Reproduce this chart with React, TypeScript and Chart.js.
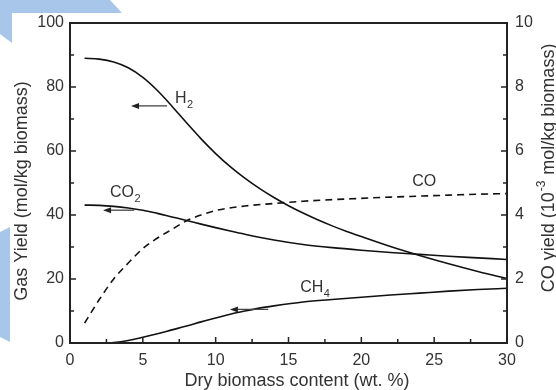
import React, { useEffect, useRef } from "react";
import { Chart, registerables } from "chart.js";

Chart.register(...registerables);

// ---- data ----
const h2X = [1, 2, 3, 4, 5, 6, 7, 8, 9, 10, 11, 12, 13, 14, 15, 16, 17, 18, 19, 20, 22, 24, 26, 28, 30];
const h2Y = [89, 88.7, 87.8, 86.0, 83.0, 78.9, 74.0, 68.8, 63.8, 59.2, 55.1, 51.5, 48.3, 45.45, 42.9, 40.6, 38.5, 36.6, 34.85, 33.25, 30.15, 27.35, 24.75, 22.35, 20.15];

const co2X = [1, 2, 3, 4, 5, 6, 7, 8, 9, 10, 11, 12, 14, 16, 18, 20, 22, 24, 26, 28, 30];
const co2Y = [43.1, 43.0, 42.7, 42.2, 41.5, 40.5, 39.4, 38.3, 37.15, 36.05, 35.0, 34.0, 32.2, 30.8, 29.8, 29.0, 28.3, 27.7, 27.1, 26.6, 26.1];

const ch4X = [2.5, 3, 4, 5, 6, 7, 8, 9, 10, 11, 12, 13, 14, 16, 18, 20, 22, 24, 26, 28, 30];
const ch4Y = [0, 0.15, 0.8, 1.8, 2.9, 4.1, 5.3, 6.6, 7.8, 9.0, 10.0, 10.9, 11.6, 12.8, 13.6, 14.3, 15.0, 15.6, 16.2, 16.7, 17.1];

const coX = [1, 2, 3, 4, 5, 6, 7, 8, 9, 10, 12, 14, 16, 18, 20, 22, 24, 26, 28, 30];
const coY = [0.62, 1.35, 2.0, 2.5, 2.95, 3.28, 3.55, 3.82, 4.0, 4.14, 4.28, 4.36, 4.43, 4.48, 4.52, 4.56, 4.59, 4.62, 4.65, 4.67];

const xTitle = "Dry biomass content (wt. %)";
const yTitle = "Gas Yield (mol/kg biomass)";
const y1TitleParts = ["CO yield (10", "-3", " mol/kg biomass)"];

// annotations: [main, sub, x, y(baseline), axis]
const labels: [string, string, number, number, string][] = [
  ["H", "2", 7.2, 75.0, "y"],
  ["CO", "2", 2.75, 45.6, "y"],
  ["CH", "4", 15.8, 15.9, "y"],
  ["CO", "", 23.5, 4.9, "y1"],
];
// arrows: [xFrom, xTo(tip), y, axis]
const arrows: [number, number, number, string][] = [
  [6.66, 4.19, 74.1, "y"],
  [4.4, 2.27, 41.5, "y"],
  [13.6, 10.98, 10.5, "y"],
];

const toXY = (xs: number[], ys: number[]) => xs.map((x, i) => ({ x, y: ys[i] }));

const FONT = "Arial, 'Liberation Sans', sans-serif";
const TXT = "#333";

const decorPlugin = {
  id: "decor",
  beforeDraw(chart: any) {
    const ctx = chart.ctx;
    ctx.save();
    ctx.fillStyle = "#fff";
    ctx.fillRect(0, 0, chart.width, chart.height);
    ctx.fillStyle = "rgb(168,197,234)";
    ctx.beginPath();
    ctx.moveTo(0, 0);
    ctx.lineTo(110, 0);
    ctx.lineTo(122, 13);
    ctx.lineTo(12, 13);
    ctx.lineTo(12, 43);
    ctx.lineTo(0, 34);
    ctx.closePath();
    ctx.fill();
    ctx.beginPath();
    ctx.moveTo(0, 232);
    ctx.lineTo(10, 227);
    ctx.lineTo(10, 342);
    ctx.lineTo(0, 337);
    ctx.closePath();
    ctx.fill();
    ctx.restore();
  },
  afterDraw(chart: any) {
    const ctx = chart.ctx;
    const { left, right, top, bottom } = chart.chartArea;
    const sx = chart.scales.x;
    const sy = chart.scales.y;
    const sy1 = chart.scales.y1;
    ctx.save();
    // frame
    ctx.strokeStyle = "#222";
    ctx.lineWidth = 2;
    ctx.strokeRect(left, top, right - left, bottom - top);
    // ticks
    ctx.lineWidth = 1.5;
    ctx.beginPath();
    for (let v = 0; v <= 30; v += 2.5) {
      const p = sx.getPixelForValue(v);
      const len = v % 5 === 0 ? 6 : 4;
      ctx.moveTo(p, bottom);
      ctx.lineTo(p, bottom - len);
    }
    for (let v = 0; v <= 100; v += 10) {
      const p = sy.getPixelForValue(v);
      const len = v % 20 === 0 ? 6 : 4;
      ctx.moveTo(left, p);
      ctx.lineTo(left + len, p);
    }
    for (let v = 0; v <= 10; v += 1) {
      const p = sy1.getPixelForValue(v);
      const len = v % 2 === 0 ? 6 : 4;
      ctx.moveTo(right, p);
      ctx.lineTo(right - len, p);
    }
    ctx.stroke();

    // arrows
    ctx.strokeStyle = "#444";
    ctx.fillStyle = "#222";
    ctx.lineWidth = 1.3;
    arrows.forEach(([x0, x1, y, ax]) => {
      const s = ax === "y" ? sy : sy1;
      const px0 = sx.getPixelForValue(x0);
      const px1 = sx.getPixelForValue(x1);
      const py = s.getPixelForValue(y);
      ctx.beginPath();
      ctx.moveTo(px0, py);
      ctx.lineTo(px1 + 5, py);
      ctx.stroke();
      ctx.beginPath();
      ctx.moveTo(px1, py);
      ctx.lineTo(px1 + 8, py - 3);
      ctx.lineTo(px1 + 8, py + 3);
      ctx.closePath();
      ctx.fill();
    });

    // labels
    ctx.fillStyle = TXT;
    ctx.textBaseline = "alphabetic";
    ctx.textAlign = "left";
    labels.forEach(([main, sub, x, y, ax]) => {
      const s = ax === "y" ? sy : sy1;
      const px = sx.getPixelForValue(x);
      const py = s.getPixelForValue(y);
      ctx.font = `16px ${FONT}`;
      ctx.fillText(main, px, py);
      const w = ctx.measureText(main).width;
      if (sub) {
        ctx.font = `11px ${FONT}`;
        ctx.fillText(sub, px + w + 0.5, py + 5);
      }
    });

    // x title
    ctx.font = `18px ${FONT}`;
    ctx.textAlign = "center";
    ctx.fillText(xTitle, 297, 386);

    // left title
    ctx.save();
    ctx.translate(22, 191);
    ctx.rotate(-Math.PI / 2);
    ctx.textBaseline = "middle";
    ctx.textAlign = "center";
    ctx.font = `18px ${FONT}`;
    ctx.fillText(yTitle, 0, 0);
    ctx.restore();

    // right title with superscript
    ctx.save();
    ctx.translate(549, 168);
    ctx.rotate(-Math.PI / 2);
    ctx.textBaseline = "middle";
    ctx.textAlign = "left";
    const bigF = `18px ${FONT}`;
    const smallF = `12px ${FONT}`;
    ctx.font = bigF;
    const w0 = ctx.measureText(y1TitleParts[0]).width;
    const w2 = ctx.measureText(y1TitleParts[2]).width;
    ctx.font = smallF;
    const w1 = ctx.measureText(y1TitleParts[1]).width + 2;
    const total = w0 + w1 + w2;
    let cx = -total / 2;
    ctx.font = bigF;
    ctx.fillText(y1TitleParts[0], cx, 0);
    cx += w0;
    ctx.font = smallF;
    ctx.fillText(y1TitleParts[1], cx + 1, -7);
    cx += w1;
    ctx.font = bigF;
    ctx.fillText(y1TitleParts[2], cx, 0);
    ctx.restore();

    ctx.restore();
  },
};

export default function App() {
  const ref = useRef<HTMLCanvasElement>(null);
  useEffect(() => {
    document.body.style.margin = "0";
    const line = (data: any, axis: string, dash: number[] = []) => ({
      data,
      yAxisID: axis,
      borderColor: "#111",
      borderWidth: 1.6,
      borderDash: dash,
      pointRadius: 0,
      fill: false,
      cubicInterpolationMode: "monotone" as const,
    });
    const chart = new Chart(ref.current!, {
      type: "line",
      data: {
        datasets: [
          { label: "H2", ...line(toXY(h2X, h2Y), "y") },
          { label: "CO2", ...line(toXY(co2X, co2Y), "y") },
          { label: "CH4", ...line(toXY(ch4X, ch4Y), "y") },
          { label: "CO", ...line(toXY(coX, coY), "y1", [7, 5]) },
        ],
      },
      plugins: [decorPlugin],
      options: {
        animation: false,
        responsive: false,
        layout: { padding: { top: 23, left: 0, right: 0, bottom: 0 } },
        plugins: { legend: { display: false }, tooltip: { enabled: false } },
        scales: {
          x: {
            type: "linear",
            min: 0,
            max: 30,
            ticks: { stepSize: 5, font: { size: 16, family: FONT }, color: TXT, padding: 8, maxRotation: 0 },
            grid: { display: false, drawTicks: false },
            border: { display: false },
            afterFit: (s: any) => { s.height = 47; },
          },
          y: {
            type: "linear",
            position: "left",
            min: 0,
            max: 100,
            ticks: { stepSize: 20, font: { size: 16, family: FONT }, color: TXT, padding: 6 },
            grid: { display: false, drawTicks: false },
            border: { display: false },
            afterFit: (s: any) => { s.width = 70; },
          },
          y1: {
            type: "linear",
            position: "right",
            min: 0,
            max: 10,
            ticks: { stepSize: 2, font: { size: 16, family: FONT }, color: TXT, padding: 8 },
            grid: { display: false, drawTicks: false },
            border: { display: false },
            afterFit: (s: any) => { s.width = 49; },
          },
        },
      },
    });
    return () => chart.destroy();
  }, []);
  return (
    <div style={{ width: 556, height: 390 }}>
      <canvas ref={ref} width={556} height={390} style={{ display: "block" }} />
    </div>
  );
}
